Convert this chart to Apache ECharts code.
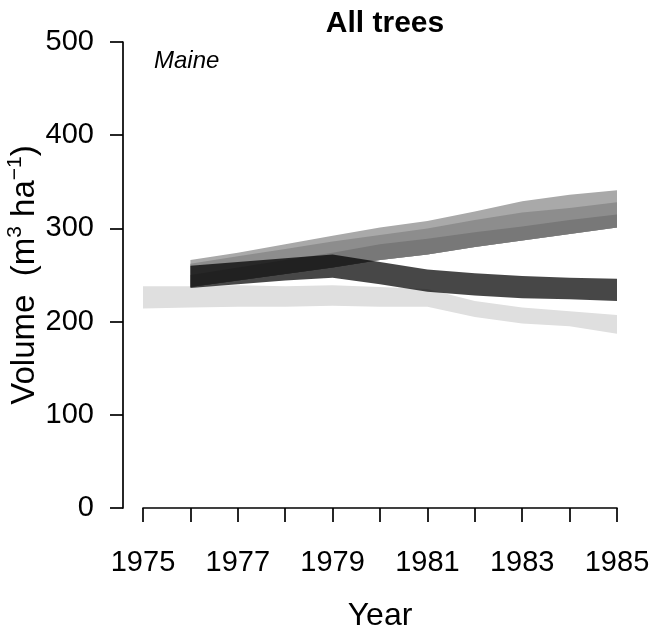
<!DOCTYPE html>
<html>
<head>
<meta charset="utf-8">
<script src="https://cdn.jsdelivr.net/npm/echarts@6/dist/echarts.min.js"></script>
<style>
html,body{margin:0;padding:0;background:#fff;}
#chart{width:654px;height:635px;}
</style>
</head>
<body>
<div id="chart"></div>
<script>
// ---- data ----
const years = [1975, 1976, 1977, 1978, 1979, 1980, 1981, 1982, 1983, 1984, 1985];
const projYears = [1976, 1977, 1978, 1979, 1980, 1981, 1982, 1983, 1984, 1985];

// light band (observed), 1975-1985
const lightLow  = [214, 215, 216, 216, 217, 216, 216, 205, 198, 195, 187];
const lightHigh = [238, 238, 239, 238, 239, 237, 235, 222, 215, 211, 207];

// rising group of projections, 1976-1985 (four boundaries, bottom to top)
const riseLow   = [237, 244, 251, 258, 266, 272, 280, 287, 294, 301];
const riseMid1  = [250, 258, 266, 274, 283, 289, 296, 302, 309, 315];
const riseMid2  = [262, 270, 278, 286, 293, 300, 309, 317, 322, 328];
const riseHigh  = [266, 274, 283, 292, 301, 308, 318, 329, 336, 341];

// dark declining band, 1976-1985
const darkLow   = [236, 240, 244, 247, 240, 232, 228, 225, 224, 222];
const darkHigh  = [260, 264, 268, 272, 264, 256, 252, 249, 247, 246];

const yTicks = [0, 100, 200, 300, 400, 500];
const xTickLabels = ['1975', '1977', '1979', '1981', '1983', '1985'];

const FONT = "'Liberation Sans', Arial, Helvetica, sans-serif";

const bands = [
  { xs: years,     lo: lightLow, hi: lightHigh, color: '#dfdfdf' },
  { xs: projYears, lo: riseLow,  hi: riseHigh,  color: '#a9a9a9' },
  { xs: projYears, lo: riseLow,  hi: riseMid2,  color: '#8d8d8d' },
  { xs: projYears, lo: riseLow,  hi: riseMid1,  color: '#787878' },
  { xs: projYears, lo: darkLow,  hi: darkHigh,  color: 'rgba(0,0,0,0.72)' }
];

function bandSeries(b) {
  return {
    type: 'custom',
    silent: true,
    animation: false,
    data: b.xs.map((x, i) => [x, b.lo[i], b.hi[i]]),
    encode: { x: 0, y: [1, 2] },
    renderItem: function (params, api) {
      if (params.dataIndex !== 0) return null;
      const pts = [];
      for (let i = 0; i < b.xs.length; i++) pts.push(api.coord([b.xs[i], b.hi[i]]));
      for (let i = b.xs.length - 1; i >= 0; i--) pts.push(api.coord([b.xs[i], b.lo[i]]));
      return { type: 'polygon', shape: { points: pts }, style: { fill: b.color, stroke: null } };
    }
  };
}

const chart = echarts.init(document.getElementById('chart'), null, { renderer: 'canvas' });
chart.setOption({
  backgroundColor: '#ffffff',
  animation: false,
  title: [
    { text: 'All trees', left: 380, top: 4, textAlign: 'center',
      textStyle: { fontFamily: FONT, fontSize: 30, fontWeight: 'bold', color: '#000' } },
    { text: 'Maine', left: 149, top: 44,
      textStyle: { fontFamily: FONT, fontSize: 24, fontStyle: 'italic', fontWeight: 'normal', color: '#000' } }
  ],
  grid: { left: 143, right: 37, top: 42, bottom: 127, containLabel: false, outerBoundsMode: 'none' },
  xAxis: {
    type: 'value', min: 1975, max: 1985, interval: 1, offset: 18,
    axisLine: { show: true, lineStyle: { color: '#000', width: 1.7 } },
    axisTick: { show: true, inside: false, length: 14, lineStyle: { color: '#000', width: 1.7 } },
    splitLine: { show: false },
    axisLabel: {
      fontFamily: FONT, fontSize: 29, color: '#000', margin: 22, showMinLabel: true, showMaxLabel: true,
      formatter: v => xTickLabels.includes(String(v)) ? String(v) : ''
    },
    name: 'Year', nameLocation: 'middle', nameGap: 74, nameMoveOverlap: false,
    nameTextStyle: { fontFamily: FONT, fontSize: 32, color: '#000' }
  },
  yAxis: {
    type: 'value', min: yTicks[0], max: yTicks[yTicks.length - 1], interval: 100, offset: 20,
    axisLine: { show: true, lineStyle: { color: '#000', width: 1.7 } },
    axisTick: { show: true, inside: false, length: 13, lineStyle: { color: '#000', width: 1.7 } },
    splitLine: { show: false },
    axisLabel: { fontFamily: FONT, fontSize: 29, color: '#000', margin: 29 },
    name: 'Volume  (m{sup|3} ha{sup|\u22121})', nameLocation: 'middle', nameRotate: 90, nameGap: 78,
    nameMoveOverlap: false,
    nameTextStyle: {
      fontFamily: FONT, fontSize: 33, color: '#000', lineHeight: 40,
      rich: { sup: { fontFamily: FONT, fontSize: 21, color: '#000', verticalAlign: 'top', lineHeight: 22 } }
    }
  },
  series: bands.map(bandSeries)
});
</script>
</body>
</html>
